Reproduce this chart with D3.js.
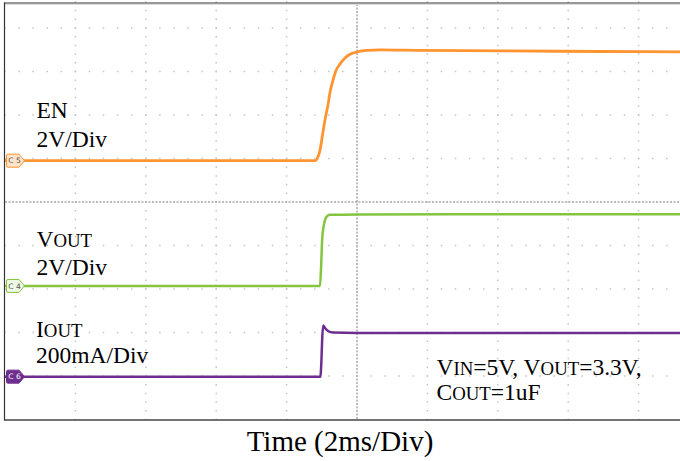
<!DOCTYPE html>
<html>
<head>
<meta charset="utf-8">
<script src="https://cdn.jsdelivr.net/npm/d3@7"></script>
<style>
  body { margin: 0; background: #fff; }
  svg { display: block; }
  text { font-family: "Liberation Serif", "Times New Roman", serif; fill: #000; }
</style>
</head>
<body>
<svg id="chart" width="680" height="461"></svg>
<script>
// time in ms (2ms/div), values in V or mA
var timeEN = [-10, -1.19, -1.11, -1.05, -0.98, -0.91, -0.82, -0.77, -0.68, -0.60, -0.48, -0.34, -0.20, 0, 0.28, 0.65, 1.79, 4.06, 6.9, 10]
var valEN = [0, 0, 0.17, 0.49, 1.18, 1.87, 2.60, 3.11, 3.71, 4.13, 4.45, 4.72, 4.89, 5.0, 5.07, 5.09, 5.07, 5.05, 5.02, 5.0]

var timeVOUT = [-10, -1.05, -1.02, -0.99, -0.94, -0.86, -0.77, 0, 5, 10]
var valVOUT = [0, 0, 0.87, 2.12, 2.81, 3.19, 3.27, 3.29, 3.30, 3.30]

var timeIOUT = [-10, -1.04, -1.01, -0.99, -0.96, -0.91, -0.82, -0.68, 0, 5, 10]
var valIOUT = [0, 0, 77, 169, 235, 224, 210, 203, 201, 201, 201]

var channels = [
    {id: "C5", t: timeEN, v: valEN, perDiv: 2, offset: 0.95, color: "#ff9430", fill: "#fde3c8", txt: "#555", width: 2.8},
    {id: "C4", t: timeVOUT, v: valVOUT, perDiv: 2, offset: -1.93, color: "#84c440", fill: "#eef7e2", txt: "#555", width: 2.5},
    {id: "C6", t: timeIOUT, v: valIOUT, perDiv: 200, offset: -4.015, color: "#6d2e8e", fill: "#6d2e8e", txt: "#fff", width: 2.5}
]

var svg = d3.select("#chart")
var x = d3.scaleLinear().domain([-10, 10]).range([5, 709])
var y = d3.scaleLinear().domain([-5, 5]).range([419.5, -15.5])

var colTicks = d3.range(-8, 9, 2).filter(function(d) { return d !== 0 })
var rowTicks = d3.range(-4, 5).filter(function(d) { return d !== 0 })
var subV = (y(0) - y(1)) / 5
var subH = (x(2) - x(0)) / 5

// dotted grid
svg.append("g").selectAll("line")
    .data(colTicks)
    .enter().append("line")
    .attr("x1", function(d) { return x(d) }).attr("x2", function(d) { return x(d) })
    .attr("y1", y(5) - 0.75).attr("y2", 420)
    .attr("stroke", "#c4c4c4").attr("stroke-width", 1.5)
    .attr("stroke-dasharray", "1.5," + (subV - 1.5))

svg.append("g").selectAll("line")
    .data(rowTicks)
    .enter().append("line")
    .attr("x1", x(-10) - 0.75).attr("x2", 680)
    .attr("y1", function(d) { return y(d) }).attr("y2", function(d) { return y(d) })
    .attr("stroke", "#c4c4c4").attr("stroke-width", 1.5)
    .attr("stroke-dasharray", "1.5," + (subH - 1.5))

// centre axes
svg.append("line")
    .attr("x1", x(0)).attr("x2", x(0)).attr("y1", 4).attr("y2", 420)
    .attr("stroke", "#a8a8a8").attr("stroke-width", 1.5).attr("stroke-dasharray", "2,1.5")
svg.append("line")
    .attr("x1", 5).attr("x2", 680).attr("y1", y(0)).attr("y2", y(0))
    .attr("stroke", "#a8a8a8").attr("stroke-width", 1.5).attr("stroke-dasharray", "2,1.5")

// frame
svg.append("line").attr("x1", 4).attr("x2", 680).attr("y1", 3).attr("y2", 3)
    .attr("stroke", "#333").attr("stroke-width", 1.2)
svg.append("line").attr("x1", 5).attr("x2", 680).attr("y1", 4.5).attr("y2", 4.5)
    .attr("stroke", "#ddd").attr("stroke-width", 1)
svg.append("line").attr("x1", 4.5).attr("x2", 4.5).attr("y1", 2.5).attr("y2", 420.5)
    .attr("stroke", "#333").attr("stroke-width", 1.2)
svg.append("line").attr("x1", 4).attr("x2", 680).attr("y1", 420).attr("y2", 420)
    .attr("stroke", "#444").attr("stroke-width", 1.5)

// traces
var line = d3.line()
    .x(function(d) { return x(d[0]) })
    .y(function(d) { return d[1] })
    .curve(d3.curveMonotoneX)

channels.forEach(function(c) {
    var pts = c.t.map(function(t, i) { return [t, y(c.offset + c.v[i] / c.perDiv)] })
    svg.append("path")
        .attr("d", line(pts))
        .attr("fill", "none")
        .attr("stroke", c.color)
        .attr("stroke-width", c.width)
        .attr("stroke-linejoin", "round")

    // channel marker
    var yy = y(c.offset)
    var g = svg.append("g").attr("transform", "translate(0," + yy + ")")
    g.append("path")
        .attr("d", "M8,-6.5 L19,-6.5 L24.5,0 L19,6.5 L8,6.5 Q6.5,6.5 6.5,5 L6.5,-5 Q6.5,-6.5 8,-6.5 Z")
        .attr("fill", c.fill).attr("stroke", c.color).attr("stroke-width", 1)
    g.append("text").attr("x", 14.5).attr("y", 2.8)
        .attr("text-anchor", "middle")
        .style("font-family", "DejaVu Sans, sans-serif")
        .style("font-size", "7.5px")
        .style("fill", c.txt)
        .text(c.id.split("").join(" "))
})

// labels
function label(xp, yp, parts, size) {
    var t = svg.append("text").attr("x", xp).attr("y", yp).style("font-size", size + "px")
    parts.forEach(function(p) {
        t.append("tspan").style("font-size", (p[1] ? size * 0.8 : size) + "px").text(p[0])
    })
}
label(36.5, 118, [["EN"]], 23.5)
label(36.5, 147, [["2V/Div"]], 23.5)
label(36.5, 247, [["V"], ["OUT", 1]], 23.5)
label(36.5, 275, [["2V/Div"]], 23.5)
label(36, 337, [["I"], ["OUT", 1]], 23.5)
label(36, 363, [["200mA/Div"]], 23.5)
label(436.5, 375, [["V"], ["IN", 1], ["=5V, V"], ["OUT", 1], ["=3.3V,"]], 23.5)
label(436.5, 400, [["C"], ["OUT", 1], ["=1uF"]], 23.5)

svg.append("text").attr("x", 340).attr("y", 451)
    .attr("text-anchor", "middle")
    .style("font-size", "29px")
    .text("Time (2ms/Div)")
</script>
</body>
</html>
